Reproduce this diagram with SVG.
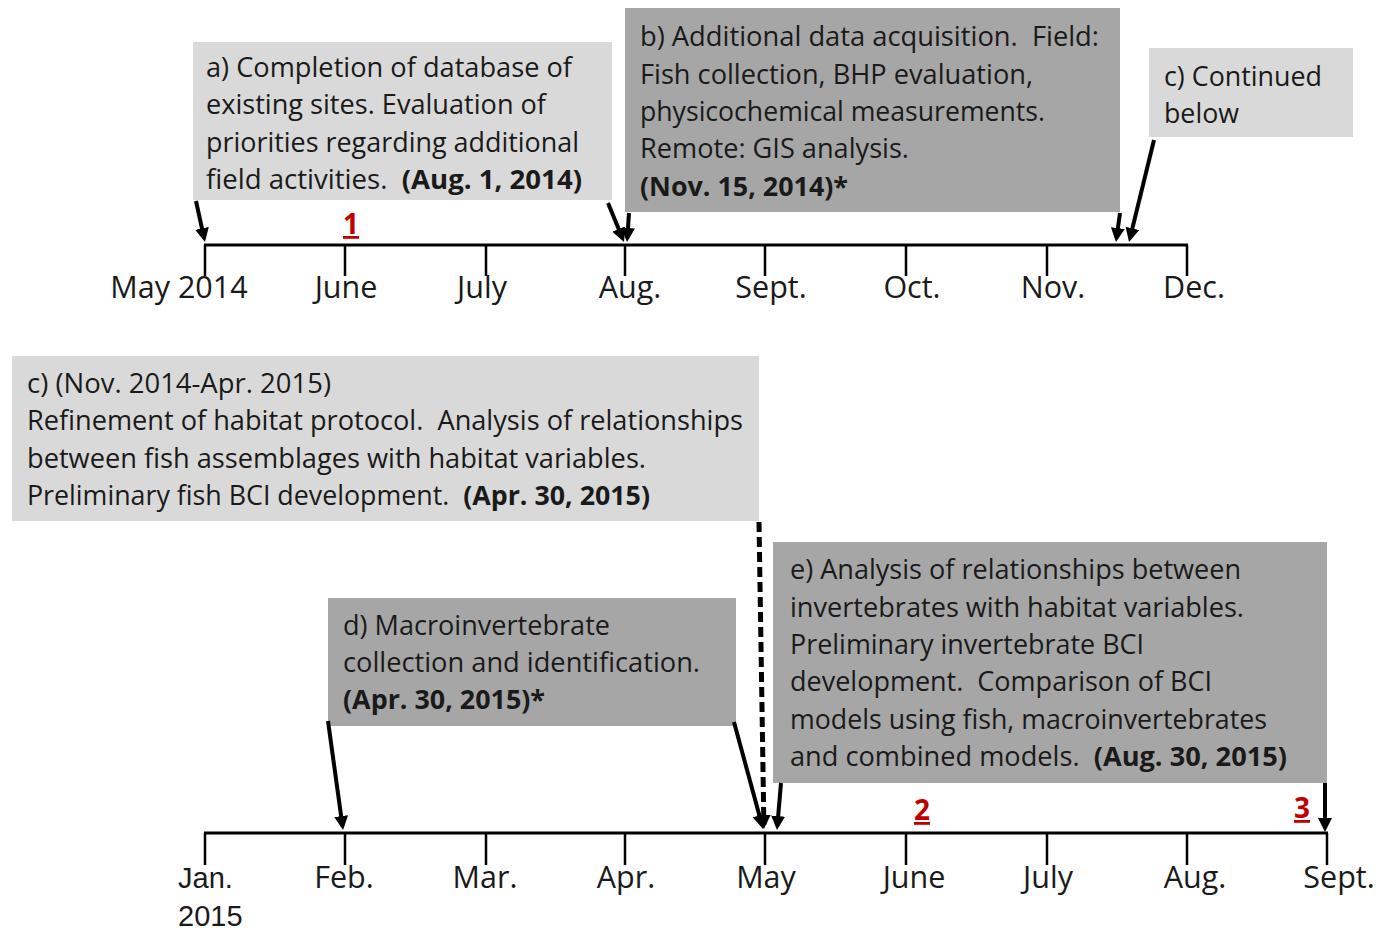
<svg xmlns="http://www.w3.org/2000/svg" width="1378" height="933" viewBox="0 0 1378 933">
<style>
.t{font-family:"Open Sans","Liberation Sans",sans-serif;font-size:27px;fill:#1a1a1a;white-space:pre}
.b{font-weight:bold}
.lab{font-family:"Open Sans","Liberation Sans",sans-serif;font-size:30.5px;fill:#1a1a1a;text-anchor:middle}
.lab2{font-family:"Liberation Sans",sans-serif;font-size:29px;fill:#1a1a1a}
.red{font-family:"Open Sans","Liberation Sans",sans-serif;font-size:28px;font-weight:bold;fill:#c00000;text-anchor:middle;text-decoration:underline}
.light{fill:#d9d9d9}
.dark{fill:#a6a6a6}
.axis{stroke:#000;stroke-width:3;fill:none}
.tick{stroke:#000;stroke-width:2.5;fill:none}
.arr{stroke:#000;stroke-width:4;fill:none;marker-end:url(#ah)}
.dash{stroke-width:5;stroke-dasharray:10 5}
</style>
<defs>
<marker id="ah" markerUnits="userSpaceOnUse" markerWidth="16" markerHeight="16" refX="10" refY="7" orient="auto">
<path d="M0,0 L14,7 L0,14 Z" fill="#000"/>
</marker>
</defs>
<rect width="1378" height="933" fill="#fff"/>

<g id="timeline-2014">
<line class="axis" x1="204" y1="245" x2="1188" y2="245"/>
<path class="tick" d="M205,245V276M345,245V276M486,245V276M625,245V276M765,245V276M906,245V276M1047,245V276M1187,245V276"/>
<text class="lab" x="179" y="298">May 2014</text>
<text class="lab" x="346" y="298">June</text>
<text class="lab" x="482" y="298">July</text>
<text class="lab" x="630" y="298">Aug.</text>
<text class="lab" x="771" y="298">Sept.</text>
<text class="lab" x="912" y="298">Oct.</text>
<text class="lab" x="1053" y="298">Nov.</text>
<text class="lab" x="1194" y="298">Dec.</text>
<text class="red" x="351" y="234">1</text>
</g>

<g id="timeline-2015">
<line class="axis" x1="204" y1="833" x2="1328" y2="833"/>
<path class="tick" d="M205,833V865M345,833V865M486,833V865M625,833V865M765,833V865M906,833V865M1047,833V865M1187,833V865M1327,833V865"/>
<text class="lab2" x="178" y="888">Jan.</text>
<text class="lab2" x="178" y="926">2015</text>
<text class="lab" x="344" y="888">Feb.</text>
<text class="lab" x="485" y="888">Mar.</text>
<text class="lab" x="626" y="888">Apr.</text>
<text class="lab" x="766" y="888">May</text>
<text class="lab" x="914" y="888">June</text>
<text class="lab" x="1048" y="888">July</text>
<text class="lab" x="1195" y="888">Aug.</text>
<text class="lab" x="1339" y="888">Sept.</text>
<text class="red" x="922" y="820">2</text>
<text class="red" x="1302" y="818">3</text>
</g>

<g id="node-a">
<rect class="light" x="193" y="42" width="419" height="158"/>
<text class="t" x="206" y="77" textLength="366" lengthAdjust="spacingAndGlyphs">a) Completion of database of</text>
<text class="t" x="206" y="114" textLength="340" lengthAdjust="spacingAndGlyphs">existing sites. Evaluation of</text>
<text class="t" x="206" y="152" textLength="373" lengthAdjust="spacingAndGlyphs">priorities regarding additional</text>
<text class="t" x="206" y="189" textLength="376" lengthAdjust="spacingAndGlyphs">field activities.  <tspan class="b">(Aug. 1, 2014)</tspan></text>
</g>

<g id="node-b">
<rect class="dark" x="625" y="8" width="495" height="204"/>
<text class="t" x="640" y="46" textLength="459" lengthAdjust="spacingAndGlyphs">b) Additional data acquisition.  Field:</text>
<text class="t" x="640" y="84" textLength="393" lengthAdjust="spacingAndGlyphs">Fish collection, BHP evaluation,</text>
<text class="t" x="640" y="121" textLength="405" lengthAdjust="spacingAndGlyphs">physicochemical measurements.</text>
<text class="t" x="640" y="158" textLength="269" lengthAdjust="spacingAndGlyphs">Remote: GIS analysis.</text>
<text class="t b" x="640" y="196" textLength="208" lengthAdjust="spacingAndGlyphs">(Nov. 15, 2014)*</text>
</g>

<g id="node-c-top">
<rect class="light" x="1149" y="48" width="204" height="89"/>
<text class="t" x="1164" y="86" textLength="158" lengthAdjust="spacingAndGlyphs">c) Continued</text>
<text class="t" x="1164" y="123" textLength="75" lengthAdjust="spacingAndGlyphs">below</text>
</g>

<g id="node-c">
<rect class="light" x="12" y="356" width="747" height="165"/>
<text class="t" x="27" y="393" textLength="304" lengthAdjust="spacingAndGlyphs">c) (Nov. 2014-Apr. 2015)</text>
<text class="t" x="27" y="430" textLength="716" lengthAdjust="spacingAndGlyphs">Refinement of habitat protocol.  Analysis of relationships</text>
<text class="t" x="27" y="468" textLength="619" lengthAdjust="spacingAndGlyphs">between fish assemblages with habitat variables.</text>
<text class="t" x="27" y="505" textLength="623" lengthAdjust="spacingAndGlyphs">Preliminary fish BCI development.  <tspan class="b">(Apr. 30, 2015)</tspan></text>
</g>

<g id="node-d">
<rect class="dark" x="328" y="598" width="408" height="128"/>
<text class="t" x="343" y="635" textLength="267" lengthAdjust="spacingAndGlyphs">d) Macroinvertebrate</text>
<text class="t" x="343" y="672" textLength="357" lengthAdjust="spacingAndGlyphs">collection and identification.</text>
<text class="t b" x="343" y="709" textLength="202" lengthAdjust="spacingAndGlyphs">(Apr. 30, 2015)*</text>
</g>

<g id="node-e">
<rect class="dark" x="773" y="542" width="554" height="241"/>
<text class="t" x="790" y="579" textLength="451" lengthAdjust="spacingAndGlyphs">e) Analysis of relationships between</text>
<text class="t" x="790" y="617" textLength="454" lengthAdjust="spacingAndGlyphs">invertebrates with habitat variables.</text>
<text class="t" x="790" y="654" textLength="354" lengthAdjust="spacingAndGlyphs">Preliminary invertebrate BCI</text>
<text class="t" x="790" y="691" textLength="422" lengthAdjust="spacingAndGlyphs">development.  Comparison of BCI</text>
<text class="t" x="790" y="729" textLength="477" lengthAdjust="spacingAndGlyphs">models using fish, macroinvertebrates</text>
<text class="t" x="790" y="766" textLength="497" lengthAdjust="spacingAndGlyphs">and combined models.  <tspan class="b">(Aug. 30, 2015)</tspan></text>
</g>

<g id="connectors">
<line class="arr" x1="196" y1="201" x2="204.1" y2="238.1"/>
<line class="arr" x1="608" y1="203" x2="622.5" y2="238.3"/>
<line class="arr" x1="629" y1="213" x2="627.3" y2="238"/>
<line class="arr" x1="1120" y1="213" x2="1116.5" y2="238"/>
<line class="arr" x1="1154" y1="140" x2="1130" y2="238.1"/>
<line class="arr" x1="328" y1="721" x2="342.5" y2="826"/>
<line class="arr" x1="734" y1="722" x2="762" y2="825.1"/>
<line class="arr dash" x1="759" y1="522" x2="763.9" y2="825"/>
<line class="arr" x1="781" y1="783" x2="777.3" y2="826"/>
<line class="arr" x1="1325" y1="783" x2="1325" y2="828"/>
</g>
</svg>
